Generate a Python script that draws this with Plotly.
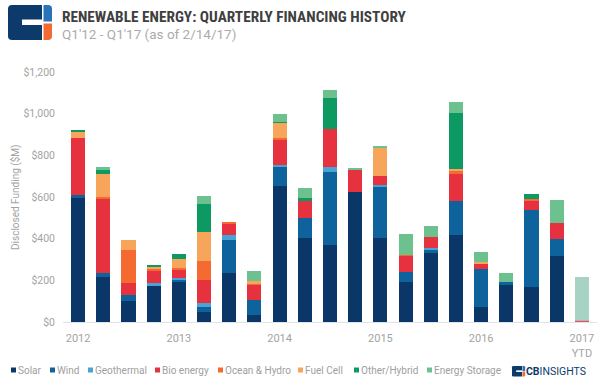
import plotly.graph_objects as go

quarters = ["Q1'12", "Q2'12", "Q3'12", "Q4'12", "Q1'13", "Q2'13", "Q3'13", "Q4'13",
            "Q1'14", "Q2'14", "Q3'14", "Q4'14", "Q1'15", "Q2'15", "Q3'15", "Q4'15",
            "Q1'16", "Q2'16", "Q3'16", "Q4'16", "Q1'17"]

solar = [595, 216, 100, 177, 193, 46, 236, 36, 652, 405, 370, 624, 405, 193, 333, 418, 74, 182, 166, 317, 4]
wind = [17, 17, 29, 0, 12, 24, 159, 70, 92, 92, 350, 0, 242, 45, 14, 162, 180, 8, 374, 80, 0]
geothermal = [0, 0, 0, 8, 8, 19, 21, 0, 8, 0, 22, 0, 13, 0, 10, 0, 0, 0, 0, 0, 0]
bio_energy = [270, 358, 59, 59, 35, 112, 56, 73, 122, 86, 183, 105, 43, 79, 51, 130, 27, 0, 43, 77, 8]
ocean_hydro = [0, 8, 156, 13, 12, 92, 6, 5, 8, 0, 0, 0, 0, 6, 0, 13, 0, 0, 8, 0, 0]
fuel_cell = [32, 112, 48, 9, 44, 137, 0, 12, 75, 0, 0, 0, 135, 0, 0, 13, 5, 0, 0, 0, 0]
other_hybrid = [6, 20, 0, 6, 21, 137, 0, 0, 3, 10, 148, 0, 0, 0, 0, 265, 0, 0, 24, 0, 0]
energy_storage = [0, 15, 0, 0, 0, 37, 0, 48, 39, 48, 40, 10, 5, 98, 52, 53, 52, 46, 0, 112, 205]

series_names = ["Solar", "Wind", "Geothermal", "Bio energy", "Ocean & Hydro",
                "Fuel Cell", "Other/Hybrid", "Energy Storage"]
series_values = [solar, wind, geothermal, bio_energy, ocean_hydro,
                 fuel_cell, other_hybrid, energy_storage]
series_colors = ["#0a3668", "#0f639c", "#48a4d6", "#e6313f", "#f46a30",
                 "#f8a55c", "#0c9a62", "#6cc18f"]
# colour used (at reduced opacity) for the year-to-date bar
ytd_colors = ["#0a3668", "#0f639c", "#48a4d6", "#e6313f", "#f46a30",
              "#f8a55c", "#0c9a62", "#4fa88a"]

tick_quarters = ["Q1'12", "Q1'13", "Q1'14", "Q1'15", "Q1'16", "Q1'17"]
tick_labels = ["2012", "2013", "2014", "2015", "2016", "2017<br>YTD"]
y_ticks = [0, 200, 400, 600, 800, 1000, 1200]
y_tick_labels = ["$0", "$200", "$400", "$600", "$800", "$1,000", "$1,200"]

W, H = 600, 386
L, R, T, B = 63, 597, 72, 322


def px(x):
    return (x - L) / (R - L)


def py(y):
    return (B - y) / (B - T)


n = len(quarters)
opac = [1.0] * (n - 1) + [0.5]

fig = go.Figure()
for name, vals, col, ycol in zip(series_names, series_values, series_colors, ytd_colors):
    cols = [col] * (n - 1) + [ycol]
    fig.add_trace(go.Bar(x=quarters, y=vals, name=name,
                         marker=dict(color=cols, opacity=opac, line=dict(width=0))))

GRAY = "#a3a3a3"
FONT = "Roboto, Arial, sans-serif"

fig.update_layout(
    template="none",
    width=W, height=H, barmode="stack", bargap=0.44,
    margin=dict(l=L, r=W - R, t=T, b=H - B, pad=0),
    paper_bgcolor="white", plot_bgcolor="white",
    showlegend=False,
    font=dict(family=FONT, color=GRAY, size=10),
    xaxis=dict(type="category", categoryorder="array", categoryarray=quarters,
               range=[-0.6, 20.6], automargin=False,
               tickmode="array", tickvals=tick_quarters, ticktext=tick_labels,
               showgrid=False, zeroline=False, showline=True, linecolor="#dfe4ea",
               linewidth=1, ticks="", ticklabelstandoff=6,
               tickfont=dict(size=11, color=GRAY, family=FONT)),
    yaxis=dict(range=[0, 1200], tickmode="array", tickvals=y_ticks,
               ticktext=y_tick_labels, automargin=False,
               showgrid=False, zeroline=False,
               showline=False, ticks="", ticklabelstandoff=7,
               tickfont=dict(size=10.5, color=GRAY, family=FONT)),
)

ann = []
shapes = []

# Title and subtitle
ann.append(dict(text="<b>RENEWABLE ENERGY: QUARTERLY FINANCING HISTORY</b>",
                x=px(60), y=py(17), xref="paper", yref="paper", xanchor="left",
                yanchor="middle", showarrow=False,
                font=dict(family="Roboto Condensed, Liberation Sans Narrow, DejaVu Sans Condensed, Roboto",
                          size=15.3, color="#3f3f3f")))
ann.append(dict(text="Q1'12 - Q1'17 (as of 2/14/17)",
                x=px(60), y=py(34), xref="paper", yref="paper", xanchor="left",
                yanchor="middle", showarrow=False,
                font=dict(family=FONT, size=13.5, color="#ababab")))

# Y axis title
ann.append(dict(text="Disclosed Funding ($M)", x=px(15), y=py(197),
                xref="paper", yref="paper", textangle=-90, showarrow=False,
                xanchor="center", yanchor="middle",
                font=dict(family=FONT, size=10, color=GRAY)))


def rrect(x0, y0, x1, y1, r_tl=0, r_tr=0, r_br=0, r_bl=0):
    def P(x, y):
        return f"{px(x):.5f},{py(y):.5f}"
    d = f"M {P(x0 + r_tl, y0)} L {P(x1 - r_tr, y0)} "
    if r_tr:
        d += f"Q {P(x1, y0)} {P(x1, y0 + r_tr)} "
    d += f"L {P(x1, y1 - r_br)} "
    if r_br:
        d += f"Q {P(x1, y1)} {P(x1 - r_br, y1)} "
    d += f"L {P(x0 + r_bl, y1)} "
    if r_bl:
        d += f"Q {P(x0, y1)} {P(x0, y1 - r_bl)} "
    d += f"L {P(x0, y0 + r_tl)} "
    if r_tl:
        d += f"Q {P(x0, y0)} {P(x0 + r_tl, y0)} "
    d += "Z"
    return d


def logo(x0, y0, s):
    def S(v):
        return v * s
    out = []
    out.append(dict(type="path", xref="paper", yref="paper",
                    path=rrect(x0, y0, x0 + S(34), y0 + S(35), S(4), 0, 0, S(4)),
                    fillcolor="#0b3a6b", line=dict(width=0), layer="above"))
    out.append(dict(type="path", xref="paper", yref="paper",
                    path=rrect(x0 + S(14), y0 + S(14.5), x0 + S(34.5), y0 + S(20)),
                    fillcolor="white", line=dict(width=0), layer="above"))
    out.append(dict(type="path", xref="paper", yref="paper",
                    path=rrect(x0 + S(35.5), y0, x0 + S(44), y0 + S(16.5), 0, S(4), 0, 0),
                    fillcolor="#2b73b8", line=dict(width=0), layer="above"))
    out.append(dict(type="path", xref="paper", yref="paper",
                    path=rrect(x0 + S(35.5), y0 + S(18.5), x0 + S(44), y0 + S(35), 0, 0, S(4), 0),
                    fillcolor="#f26a32", line=dict(width=0), layer="above"))
    return out


shapes += logo(8, 5, 1.0)

# Custom legend
leg_sq_x = [11, 50, 88, 155, 218, 298, 354, 427]
for name, col, sx in zip(series_names, series_colors, leg_sq_x):
    shapes.append(dict(type="rect", xref="paper", yref="paper",
                       x0=px(sx), x1=px(sx + 5), y0=py(372.5), y1=py(367.5),
                       fillcolor=col, line=dict(width=0)))
    ann.append(dict(text=name, x=px(sx + 5), y=py(370), xref="paper", yref="paper",
                    xanchor="left", yanchor="middle", showarrow=False,
                    font=dict(family=FONT, size=10, color="#a0a0a0")))

# CB Insights mark
shapes += logo(512, 366, 0.3)
ann.append(dict(text="<b>CB</b>INSIGHTS", x=px(524), y=py(371), xref="paper", yref="paper",
                xanchor="left", yanchor="middle", showarrow=False,
                font=dict(family=FONT, size=10.5, color="#0b3a6b")))

fig.update_layout(annotations=ann, shapes=shapes)
fig.write_html("out.html", config={"displayModeBar": False},
               post_script="document.body.style.margin='0';document.body.style.padding='0';")
